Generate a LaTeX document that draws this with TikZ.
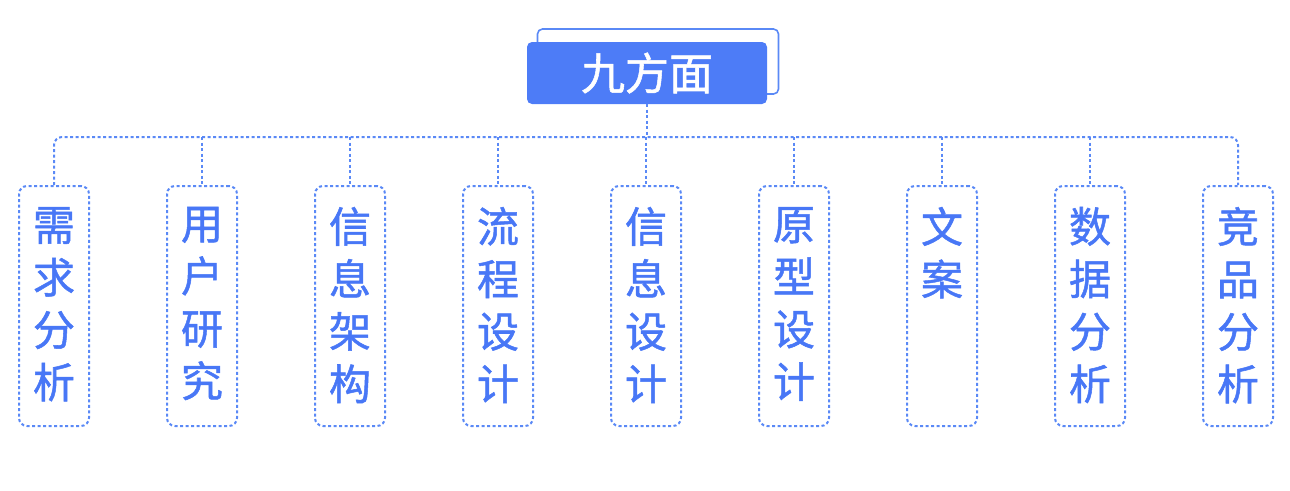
\documentclass[tikz,border=0pt]{standalone}
\usepackage{fontspec}
\newfontfamily\cjk[FakeBold=1.2]{Noto Sans CJK SC}
\definecolor{mainblue}{HTML}{4D7CF7}
\definecolor{lineblue}{HTML}{5A89F6}
\definecolor{textblue}{HTML}{4877F6}
\newcommand{\vtext}[1]{\parbox[t][236pt][t]{60pt}{\vspace*{19pt}\centering\cjk\fontsize{42}{52.5}\selectfont #1}}
\tikzset{
  dline/.style={draw=lineblue, line width=2pt, dash pattern=on 3pt off 2.5pt},
  childbox/.style={dline, rounded corners=8pt, anchor=north, minimum width=70pt, inner xsep=0pt, inner ysep=2pt, text=textblue},
  rootbox/.style={fill=mainblue, rounded corners=5pt, minimum width=240pt, minimum height=62pt, text=white, inner sep=0pt},
  shadowbox/.style={draw=lineblue, fill=white, line width=1.6pt, rounded corners=5pt, minimum width=241pt, minimum height=65pt},
}
\begin{document}
\begin{tikzpicture}[x=1pt,y=-1pt]
\useasboundingbox (0,0) rectangle (1290,490);
\node[shadowbox] (shadow) at (658,61.5) {};
\node[rootbox] (root) at (647,73) {\cjk\fontsize{44}{50}\selectfont 九方面};
\coordinate (bus) at (647,137);
\node[childbox] (c1) at (54,185) {\vtext{需\\求\\分\\析}};
\node[childbox] (c2) at (202,185) {\vtext{用\\户\\研\\究}};
\node[childbox] (c3) at (350,185) {\vtext{信\\息\\架\\构}};
\node[childbox] (c4) at (498,185) {\vtext{流\\程\\设\\计}};
\node[childbox] (c5) at (646,185) {\vtext{信\\息\\设\\计}};
\node[childbox] (c6) at (794,185) {\vtext{原\\型\\设\\计}};
\node[childbox] (c7) at (942,185) {\vtext{文\\案}};
\node[childbox] (c8) at (1090,185) {\vtext{数\\据\\分\\析}};
\node[childbox] (c9) at (1238,185) {\vtext{竞\\品\\分\\析}};
\draw[dline] (root.south) -- (bus);
\draw[dline, rounded corners=8pt] (c1.north) -- (c1.north |- bus) -- (c9.north |- bus) -- (c9.north);
\foreach \i in {2,...,8} {
  \draw[dline] (c\i.north |- bus) -- (c\i.north);
}
\end{tikzpicture}
\end{document}
